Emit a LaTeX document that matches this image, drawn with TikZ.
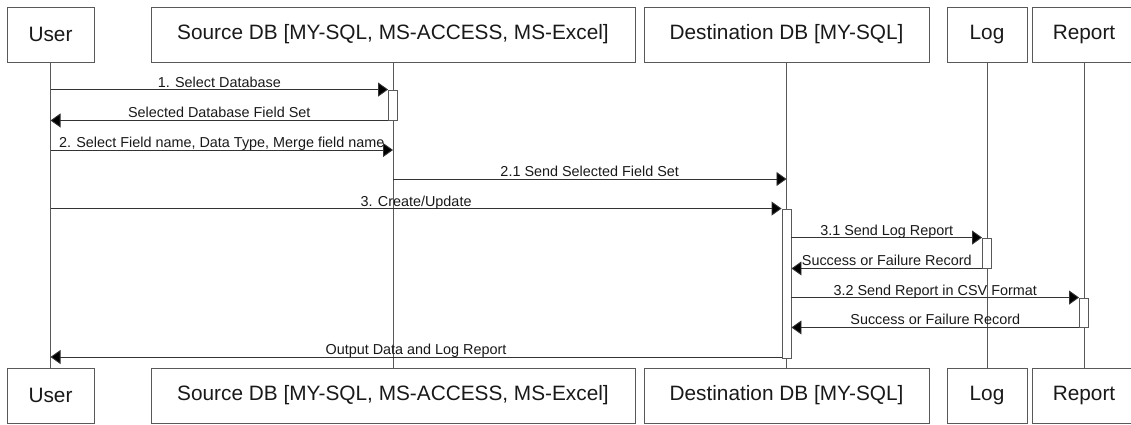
\documentclass[tikz,border=0pt]{standalone}
\usepackage{fontspec}
\setmainfont{Liberation Sans}
\usetikzlibrary{arrows.meta}

\begin{document}
\begin{tikzpicture}[x=1pt, y=-1pt,
        actor/.style={draw=black!65, line width=0.9pt, minimum height=55pt, inner sep=0pt,
            text=black!90, font=\fontsize{20.8}{25}\selectfont},
        life/.style={draw=black!65, line width=0.9pt},
        act/.style={draw=black!65, fill=white, line width=0.9pt, minimum width=9pt, inner sep=0pt},
        msg/.style={draw=black!80, line width=0.9pt, -{Triangle[length=10pt, width=14pt, fill=black]}},
        lbl/.style={anchor=base, yshift=2.5pt, inner sep=0pt, text=black!90,
            font=\fontsize{14.4}{17}\selectfont}]
        \useasboundingbox (0,0) rectangle (1131,424);

        \node[actor, minimum width=87pt] (usertop) at (50.5,34.5) {User};
        \node[actor, minimum width=484pt] (srctop) at (393,34.5) {Source DB [MY-SQL, MS-ACCESS, MS-Excel]};
        \node[actor, minimum width=285pt] (dsttop) at (786.5,34.5) {Destination DB [MY-SQL]};
        \node[actor, minimum width=80pt] (logtop) at (987,34.5) {Log};
        \node[actor, minimum width=104pt] (reptop) at (1084,34.5) {Report};

        \node[actor, minimum width=87pt] (userbot) at (50.5,395.5) {User};
        \node[actor, minimum width=484pt] (srcbot) at (393,395.5) {Source DB [MY-SQL, MS-ACCESS, MS-Excel]};
        \node[actor, minimum width=285pt] (dstbot) at (786.5,395.5) {Destination DB [MY-SQL]};
        \node[actor, minimum width=80pt] (logbot) at (987,395.5) {Log};
        \node[actor, minimum width=104pt] (repbot) at (1084,395.5) {Report};

        % lifelines
        \draw[life] (usertop) -- (userbot);
        \draw[life] (srctop) -- (srcbot);
        \draw[life] (dsttop) -- (dstbot);
        \draw[life] (logtop) -- (logbot);
        \draw[life] (reptop) -- (repbot);

        % activations
        \node[act, minimum height=30pt] (srcact) at (393,105) {};
        \node[act, minimum height=149pt] (dstact) at (786.5,283.5) {};
        \node[act, minimum height=30pt] (logact) at (987,253) {};
        \node[act, minimum height=29pt] (repact) at (1084,312.5) {};

        \coordinate (row2) at (0,150);
        \coordinate (row21) at (0,179);
        \coordinate (rowout) at (0,357);

        \draw[msg] (usertop.south |- srcact.north) -- node[lbl] {1. Select Database} (srcact.north west);
        \draw[msg] (srcact.south west) -- node[lbl] {Selected Database Field Set} (usertop.south |- srcact.south);
        \draw[msg] (usertop.south |- row2) -- node[lbl] {2. Select Field name, Data Type, Merge field name} (srctop.south |- row2);
        \draw[msg] (srctop.south |- row21) -- node[lbl] {2.1 Send Selected Field Set} (dsttop.south |- row21);
        \draw[msg] (usertop.south |- dstact.north) -- node[lbl] {3. Create/Update} (dstact.north west);
        \draw[msg] (dstact.east |- logact.north) -- node[lbl] {3.1 Send Log Report} (logact.north west);
        \draw[msg] (logact.south west) -- node[lbl] {Success or Failure Record} (dstact.east |- logact.south);
        \draw[msg] (dstact.east |- repact.north) -- node[lbl] {3.2 Send Report in CSV Format} (repact.north west);
        \draw[msg] (repact.south west) -- node[lbl] {Success or Failure Record} (dstact.east |- repact.south);
        \draw[msg] (dstact.west |- rowout) -- node[lbl] {Output Data and Log Report} (usertop.south |- rowout);
\end{tikzpicture}
\end{document}
